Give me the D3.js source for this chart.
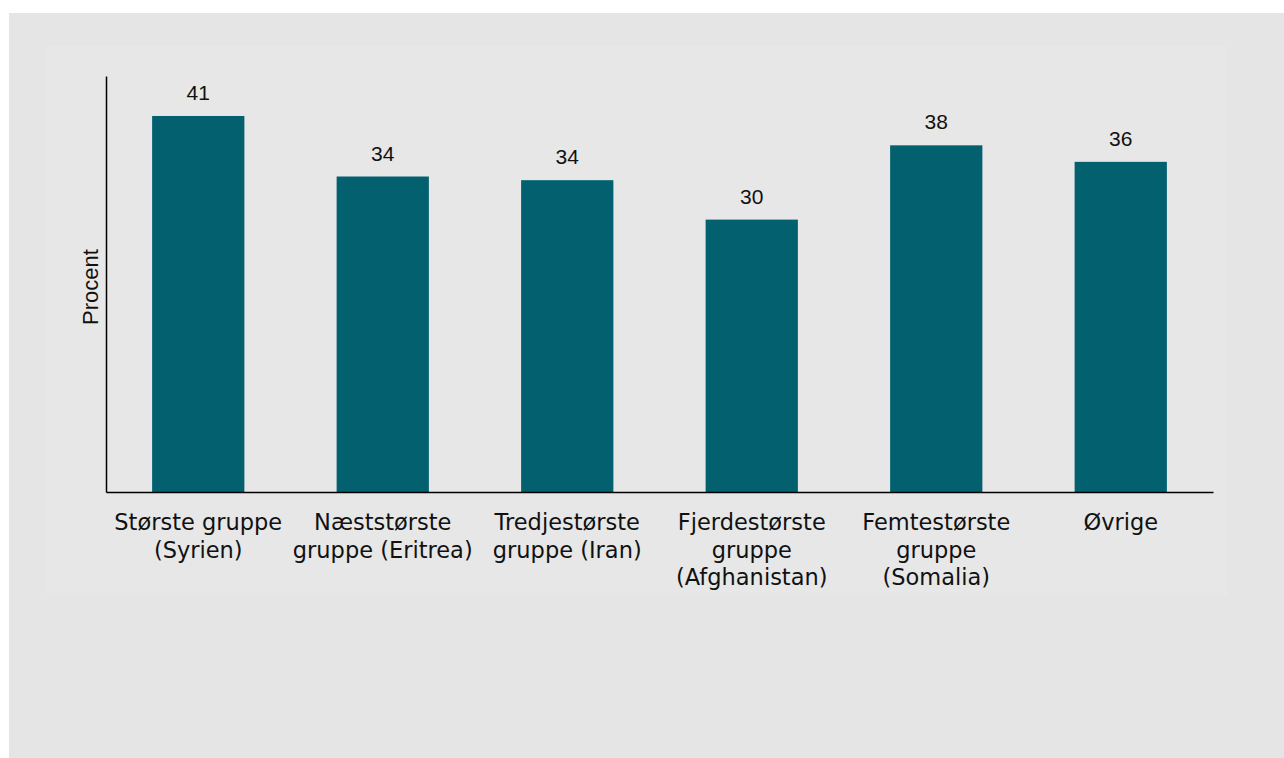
<!DOCTYPE html>
<html>
<head>
<meta charset="utf-8">
<script src="https://cdn.jsdelivr.net/npm/d3@7"></script>
<style>
  html, body { margin: 0; padding: 0; background: #ffffff; }
  svg { display: block; }
</style>
</head>
<body>
<svg id="chart" width="1284" height="758"></svg>
<script>
const categories = [
  ["Største gruppe", "(Syrien)"],
  ["Næststørste", "gruppe (Eritrea)"],
  ["Tredjestørste", "gruppe (Iran)"],
  ["Fjerdestørste", "gruppe", "(Afghanistan)"],
  ["Femtestørste", "gruppe", "(Somalia)"],
  ["Øvrige"]
];
const values = [41.0, 34.4, 34.0, 29.7, 37.8, 36.0];
const yLabel = "Procent";

(function () {
const svg = d3.select("#chart");
const W = 1284, H = 758;

// background panels
svg.append("rect").attr("x", 9).attr("y", 13).attr("width", W - 9).attr("height", H - 13).attr("fill", "#e5e5e5");
svg.append("rect").attr("x", 47).attr("y", 46).attr("width", 1180).attr("height", 549).attr("fill", "#e7e7e7");

const mLeft = 106, mRight = 1213, mTop = 76, mBottom = 492;
const keys = categories.map(c => c.join(" "));

const x = d3.scaleBand().domain(keys).range([mLeft, mRight]).paddingInner(0.5).paddingOuter(0.25);
const y = d3.scaleLinear().domain([0, 45.36]).range([mBottom, mTop]);

// bars
svg.append("g").selectAll("rect").data(values).join("rect")
  .attr("x", (d, i) => x(keys[i]))
  .attr("y", d => y(d))
  .attr("width", x.bandwidth())
  .attr("height", d => y(0) - y(d))
  .attr("fill", "#02606f");

// value labels
svg.append("g").selectAll("text").data(values).join("text")
  .attr("x", (d, i) => x(keys[i]) + x.bandwidth() / 2)
  .attr("y", d => y(d) - 16)
  .attr("text-anchor", "middle")
  .attr("font-family", "Liberation Sans, Arial, sans-serif")
  .attr("font-size", 21)
  .attr("fill", "#111")
  .text(d => d3.format(".0f")(d));

// axes
const yAxis = d3.axisLeft(y).tickValues([]).tickSizeOuter(0);
svg.append("g").attr("transform", `translate(${mLeft},0)`).call(yAxis)
  .call(g => g.select(".domain").attr("stroke", "#000").attr("stroke-width", 1.5));

const xAxis = d3.axisBottom(x).tickSize(0).tickSizeOuter(0).tickFormat("");
const xg = svg.append("g").attr("transform", `translate(0,${mBottom})`).call(xAxis);
xg.select(".domain").attr("stroke", "#000").attr("stroke-width", 1.5);

// category labels
xg.selectAll(".tick text").remove();
xg.selectAll(".tick").each(function(d, i) {
  const t = d3.select(this).append("text")
    .attr("text-anchor", "middle")
    .attr("font-family", "DejaVu Sans, Verdana, sans-serif")
    .attr("font-size", 22.5)
    .attr("fill", "#111");
  categories[i].forEach((line, j) => {
    t.append("tspan").attr("x", 0).attr("y", 38 + j * 27.5).text(line);
  });
});

// y label
svg.append("text")
  .attr("transform", `translate(98,287) rotate(-90)`)
  .attr("text-anchor", "middle")
  .attr("font-family", "Liberation Sans, Arial, sans-serif")
  .attr("font-size", 22)
  .attr("fill", "#111")
  .text(yLabel);
})();
</script>
</body>
</html>
